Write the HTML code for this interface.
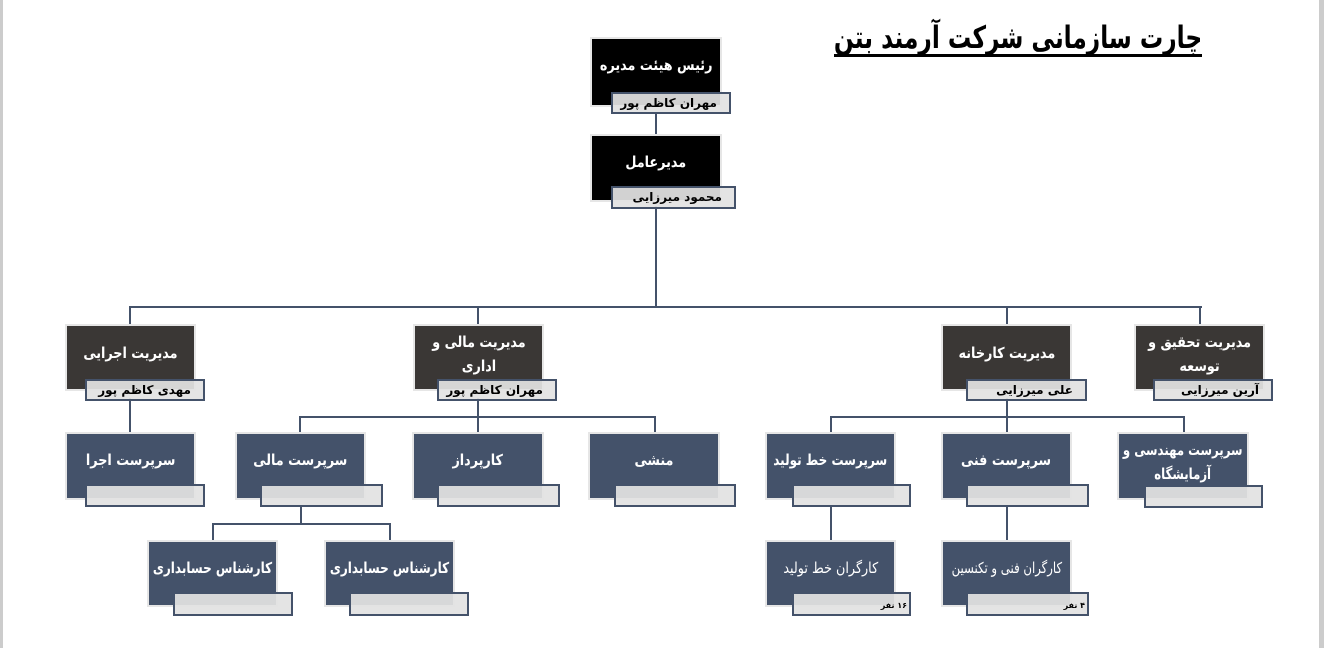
<!DOCTYPE html>
<html><head><meta charset="utf-8"><style>
body{margin:0;width:1324px;height:648px;background:#fff;position:relative;overflow:hidden;font-family:"DejaVu Sans","Liberation Sans",sans-serif}
.b{position:absolute;box-sizing:border-box;border:2px solid #e6e6e6;color:#fff;font-weight:bold;font-size:15px;text-align:center;direction:rtl;display:flex;align-items:center;justify-content:center;line-height:24px;white-space:nowrap}
.b span{display:inline-block;transform:scaleX(0.85)}
.k{background:#000}.d{background:#3a3735}.s{background:#44526a}
.s.n{font-weight:normal}
.l{position:absolute;box-sizing:border-box;background:rgba(226,226,226,0.93);border:2px solid #44526a;font-size:12px;font-weight:bold;direction:rtl;text-align:right;padding-right:12px;line-height:18px;color:#000;white-space:nowrap}
.h{position:absolute;background:#44526a;height:2px}
.v{position:absolute;background:#44526a;width:2px}
.sm{font-size:8px;padding-right:2px;line-height:24px;font-weight:bold}
</style></head><body>
<div style="position:absolute;left:0;top:0;width:3px;height:648px;background:#ccc"></div>
<div style="position:absolute;right:0;top:0;width:5px;height:648px;background:#ccc"></div>
<div style="position:absolute;left:834px;top:18px;width:368px;height:36px;border-bottom:3px solid #000;overflow:visible">
<div style="position:absolute;left:-100px;width:568px;text-align:center;font-size:31px;font-weight:bold;direction:rtl;line-height:40px;white-space:nowrap;transform:scaleX(0.75)">چارت سازمانی شرکت آرمند بتن</div></div>

<!-- connectors -->
<div class="v" style="left:655px;top:112px;height:24px"></div>
<div class="v" style="left:655px;top:206px;height:102px"></div>
<div class="h" style="left:129px;top:306px;width:1073px"></div>
<div class="v" style="left:129px;top:306px;height:20px"></div>
<div class="v" style="left:477px;top:306px;height:20px"></div>
<div class="v" style="left:1006px;top:306px;height:20px"></div>
<div class="v" style="left:1199px;top:306px;height:20px"></div>

<div class="v" style="left:129px;top:398px;height:36px"></div>
<div class="v" style="left:477px;top:398px;height:19px"></div>
<div class="h" style="left:299px;top:416px;width:357px"></div>
<div class="v" style="left:299px;top:416px;height:18px"></div>
<div class="v" style="left:477px;top:416px;height:18px"></div>
<div class="v" style="left:654px;top:416px;height:18px"></div>

<div class="v" style="left:1006px;top:398px;height:19px"></div>
<div class="h" style="left:830px;top:416px;width:355px"></div>
<div class="v" style="left:830px;top:416px;height:18px"></div>
<div class="v" style="left:1006px;top:416px;height:18px"></div>
<div class="v" style="left:1183px;top:416px;height:18px"></div>

<div class="v" style="left:300px;top:505px;height:19px"></div>
<div class="h" style="left:212px;top:523px;width:179px"></div>
<div class="v" style="left:212px;top:523px;height:19px"></div>
<div class="v" style="left:389px;top:523px;height:19px"></div>
<div class="v" style="left:830px;top:505px;height:37px"></div>
<div class="v" style="left:1006px;top:505px;height:37px"></div>

<!-- top -->
<div class="b k" style="left:590px;top:37px;width:132px;height:70px;padding-bottom:14px"><span>رئیس هیئت مدیره</span></div>
<div class="l" style="left:611px;top:92px;width:120px;height:22px">مهران کاظم پور</div>
<div class="b k" style="left:590px;top:134px;width:132px;height:68px;padding-bottom:12px"><span>مدیرعامل</span></div>
<div class="l" style="left:611px;top:186px;width:125px;height:23px">محمود میرزایی</div>

<!-- level 2 -->
<div class="b d" style="left:65px;top:324px;width:131px;height:67px;padding-bottom:10px"><span>مدیریت اجرایی</span></div>
<div class="l" style="left:85px;top:379px;width:120px;height:22px">مهدی کاظم پور</div>
<div class="b d" style="left:413px;top:324px;width:131px;height:67px;padding-bottom:8px"><span>مدیریت مالی و<br>اداری</span></div>
<div class="l" style="left:437px;top:379px;width:120px;height:22px">مهران کاظم پور</div>
<div class="b d" style="left:941px;top:324px;width:131px;height:67px;padding-bottom:10px"><span>مدیریت کارخانه</span></div>
<div class="l" style="left:966px;top:379px;width:121px;height:22px">علی میرزایی</div>
<div class="b d" style="left:1134px;top:324px;width:131px;height:67px;padding-bottom:8px"><span>مدیریت تحقیق و<br>توسعه</span></div>
<div class="l" style="left:1153px;top:379px;width:120px;height:22px">آرین میرزایی</div>

<!-- level 3 -->
<div class="b s" style="left:65px;top:432px;width:131px;height:68px;padding-bottom:12px"><span>سرپرست اجرا</span></div>
<div class="l" style="left:85px;top:484px;width:120px;height:23px"></div>
<div class="b s" style="left:235px;top:432px;width:131px;height:68px;padding-bottom:12px"><span>سرپرست مالی</span></div>
<div class="l" style="left:260px;top:484px;width:123px;height:23px"></div>
<div class="b s" style="left:412px;top:432px;width:132px;height:68px;padding-bottom:12px"><span>کارپرداز</span></div>
<div class="l" style="left:437px;top:484px;width:123px;height:23px"></div>
<div class="b s" style="left:588px;top:432px;width:132px;height:68px;padding-bottom:12px"><span>منشی</span></div>
<div class="l" style="left:614px;top:484px;width:122px;height:23px"></div>
<div class="b s" style="left:765px;top:432px;width:131px;height:68px;padding-bottom:12px"><span style="transform:scaleX(0.8)">سرپرست خط تولید</span></div>
<div class="l" style="left:792px;top:484px;width:119px;height:23px"></div>
<div class="b s" style="left:941px;top:432px;width:131px;height:68px;padding-bottom:12px"><span>سرپرست فنی</span></div>
<div class="l" style="left:966px;top:484px;width:123px;height:23px"></div>
<div class="b s" style="left:1117px;top:432px;width:132px;height:68px;padding-bottom:8px"><span style="transform:scaleX(0.78)">سرپرست مهندسی و<br>آزمایشگاه</span></div>
<div class="l" style="left:1144px;top:485px;width:119px;height:23px"></div>

<!-- level 4 -->
<div class="b s" style="left:147px;top:540px;width:131px;height:67px;padding-bottom:12px"><span style="transform:scaleX(0.8)">کارشناس حسابداری</span></div>
<div class="l" style="left:173px;top:592px;width:120px;height:24px"></div>
<div class="b s" style="left:324px;top:540px;width:131px;height:67px;padding-bottom:12px"><span style="transform:scaleX(0.8)">کارشناس حسابداری</span></div>
<div class="l" style="left:349px;top:592px;width:120px;height:24px"></div>
<div class="b s n" style="left:765px;top:540px;width:131px;height:67px;padding-bottom:12px"><span>کارگران خط تولید</span></div>
<div class="l sm" style="left:792px;top:592px;width:119px;height:24px">۱۶ نفر</div>
<div class="b s n" style="left:941px;top:540px;width:131px;height:67px;padding-bottom:12px"><span style="transform:scaleX(0.78)">کارگران فنی و تکنسین</span></div>
<div class="l sm" style="left:966px;top:592px;width:123px;height:24px">۴ نفر</div>
</body></html>
